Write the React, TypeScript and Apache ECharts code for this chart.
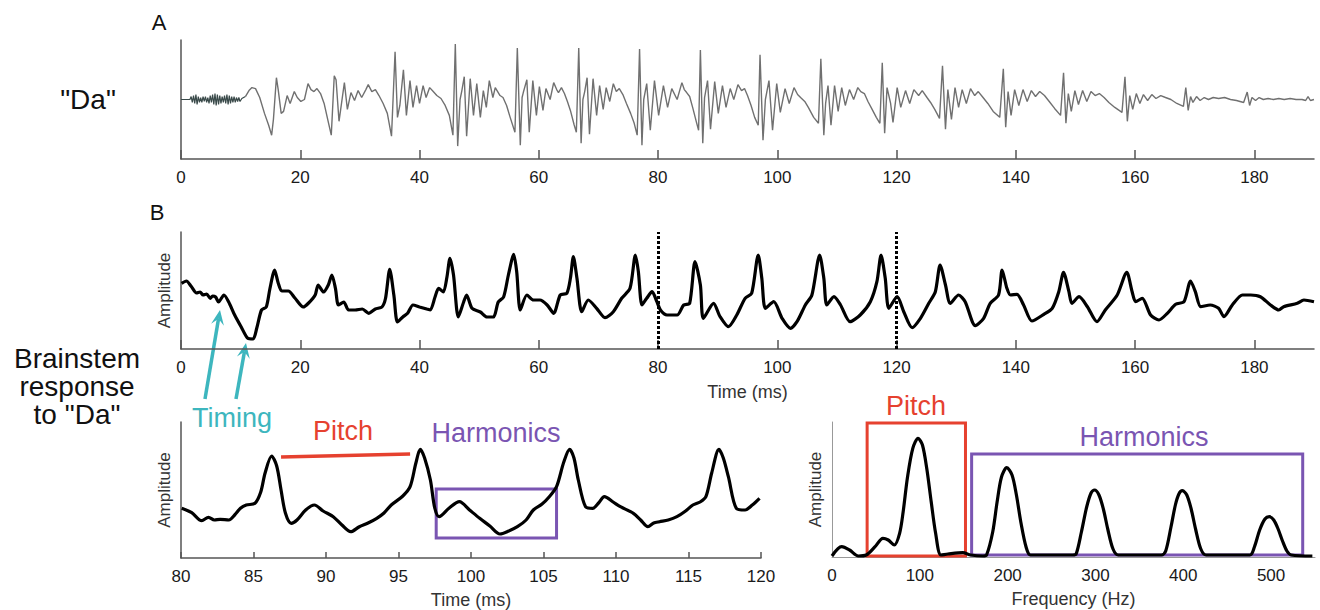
import React, { useEffect, useRef } from "react";
import * as echarts from "echarts";

// ---------- Tick labels ----------
const timeTicks = [0, 20, 40, 60, 80, 100, 120, 140, 160, 180];
const detailTicks = [80, 85, 90, 95, 100, 105, 110, 115, 120];
const freqTicks = [0, 100, 200, 300, 400, 500];

// ---------- Panel A: speech waveform "Da" (ms, amplitude above baseline) ----------
const onsetT = [0, 1.5, 1.7, 1.9, 2.1, 2.3, 2.5, 2.7, 2.9, 3.1, 3.3, 3.5, 3.7, 3.9, 4.1, 4.3, 4.5, 4.7, 4.9, 5.1, 5.3, 5.5, 5.7, 5.9, 6.1, 6.3, 6.5, 6.7, 6.9, 7.1, 7.3, 7.5, 7.7, 7.9, 8.1, 8.3, 8.5, 8.7, 8.9, 9.1, 9.3, 9.5, 9.7, 9.9, 10.2, 10.8];
const onsetA = [0, 0, 3, -3, 4, -4, 5, -5, 3, -3, 2, -3, 3, -2, 3, -3, 2, -4, 4, -3, 5, -5, 6, -6, 5, -5, 4, -4, 3, -3, 4, -4, 5, -5, 4, -4, 3, -3, 3, -3, 2, -2, 2, -2, 1, 3];

const speechT = [
  10.8, 11.4, 11.9, 12.5, 13.2, 14.0, 14.7, 15.2, 15.5, 16.0, 16.3, 16.8, 17.2, 17.8, 18.3, 19.0, 19.5, 20.1, 20.7, 21.3, 21.8, 22.3, 22.8, 23.4, 24.0, 24.6, 25.2,
  25.7, 26.0, 26.5, 27.4, 27.9, 28.5, 29.1, 29.7, 30.3, 31.0, 31.4, 32.0, 32.6, 33.2, 33.9, 34.6, 35.3,
  35.9, 36.3, 36.7, 37.3, 37.8, 38.4, 38.9, 39.5, 40.0, 40.6, 41.1, 41.7, 42.3, 42.9, 43.6, 44.3, 45.0, 45.6,
  46.0, 46.4, 46.8, 47.1, 47.5, 47.9, 48.5, 49.05, 49.6, 50.2, 50.7, 51.2, 51.7, 52.3, 52.7, 53.1, 53.5, 54.0, 54.6, 55.2, 56.0,
  56.4, 56.9, 57.2, 57.4, 58.0, 58.4, 59.0, 59.6, 60.1, 60.7, 61.2, 61.9, 62.5, 63.0, 63.3, 63.8, 64.3, 64.8, 65.3, 65.9, 66.3,
  66.7, 67.1, 67.4, 67.7, 68.1, 68.5, 69.1, 69.7, 70.2, 70.8, 71.3, 71.9, 72.5, 73.0, 73.5, 74.1, 74.7, 75.4, 76.0, 76.5,
  76.9, 77.3, 77.6, 78.1, 78.7, 79.4, 80.1, 80.9, 81.6, 82.3, 83.2, 84.0, 84.4, 84.8, 85.3, 85.8, 86.4, 86.8,
  87.1, 87.5, 87.8, 88.3, 88.8, 89.5, 90.1, 90.8, 91.4, 92.1, 92.7, 93.4, 94.0, 94.5, 95.0, 95.6, 96.2, 96.8,
  97.1, 97.6, 98.0, 98.6, 99.2, 99.9, 100.5, 101.3, 102.0, 102.8, 103.4, 103.9, 104.6, 105.2, 106.1, 106.9,
  107.3, 107.8, 108.1, 108.5, 109.0, 109.6, 110.2, 110.8, 111.4, 112.1, 112.8, 113.5, 114.0, 114.6, 115.2, 115.9, 116.6, 117.2,
  117.6, 118.0, 118.4, 119.0, 119.4, 120.1, 120.7, 121.5, 122.2, 122.9, 123.7, 124.3, 125.1, 125.7, 126.4, 127.2,
  127.7, 128.2, 128.6, 129.2, 129.8, 130.4, 131.0, 131.7, 132.4, 133.1, 133.7, 134.5, 135.3, 136.2, 137.3,
  137.9, 138.3, 138.7, 139.2, 139.8, 140.5, 141.2, 141.9, 142.6, 143.3, 144.0, 144.8, 145.6, 146.5, 147.5,
  148.0, 148.4, 148.8, 149.3, 149.9, 150.5, 151.2, 151.9, 152.6, 153.3, 154.0, 154.8, 155.6, 156.6, 157.8,
  158.3, 158.7, 159.1, 159.6, 160.2, 160.8, 161.4, 162.1, 162.8, 163.5, 164.3, 165.1, 166.0, 167.0, 168.1,
  168.5, 168.9, 169.3, 169.7, 170.3, 170.9, 171.6, 172.3, 173.1, 174.0, 175.0, 176.0, 177.0, 178.2,
  178.8, 179.2, 179.6, 180.2, 180.8, 181.5, 182.3, 183.2, 184.1, 185.0, 186.0, 187.0, 188.0, 188.6, 189.0, 189.4, 190,
];
const speechA = [
  3, 9, 12, 11, 2, -14, -26, -36, -20, 22, 10, -14, -12, 4, -4, 8, 2, -2, 0, 16, 10, 8, 11, 6, -4, -20, -36,
  24, 20, -22, 17, -10, 7, -1, 9, 2, 10, 15, 8, 10, 4, -4, -14, -37,
  48, -18, -6, 30, -16, 19, -8, 14, -4, 14, 2, 12, 8, 4, 1, -6, -16, -36,
  56, -47, 0, 9, 23, -37, 21, -16, 16, -18, 9, -8, 19, 2, 12, 8, 4, 2, -6, -18, -33,
  52, -46, 2, 7, 20, -33, 19, -16, 13, -11, 11, 0, 17, 10, 7, 12, 6, -2, -11, -25, -33,
  52, -44, 0, 8, 22, -35, 21, -16, 14, -10, 12, -2, 16, 8, 11, 5, -4, -14, -24, -36,
  51, -46, 0, 16, -31, 19, -16, 14, -8, 11, 0, 17, 10, 7, 3, -8, -22, -31,
  50, -44, 2, 19, -30, 18, -14, 14, -8, 11, 0, 15, 9, 11, 4, -6, -18, -26,
  45, -41, 0, 19, -31, 16, -13, 11, -4, 12, 5, 2, -2, -8, -18, -24,
  41, -36, -4, 14, -26, 14, -12, 12, -6, 10, 0, 12, 8, 6, -2, -10, -18, -24,
  37, -34, 12, -4, -23, 12, -8, 9, -4, 10, 4, 9, 2, -3, -10, -19,
  34, -30, 10, -20, 12, -8, 10, -4, 11, 4, 8, 2, -4, -12, -18,
  31, -28, 8, -16, 10, -6, 10, -2, 9, 3, 8, 4, -2, -9, -16,
  27, -24, 6, -12, 9, -5, 9, -2, 8, 4, 6, 2, -3, -8, -13,
  23, -22, 4, -10, 6, -4, 5, -1, 5, 1, 4, 2, 0, -4, -7,
  12, -11, 3, -3, 3, -1, 2, 0, 2, 1, 2, 0, -1, -3,
  7.5, -6, 2, -1, 2, 0, 1, 0, 1, 0, 1, 0, 0, -1, 3, -1, 0,
];

// ---------- Panel B: brainstem response (ms, amplitude) ----------
const respT = [
  0.1, 0.9, 1.7, 2.6, 3.2, 3.7, 4.3, 4.9, 5.3, 5.8, 6.3, 7.2, 8.0, 9.0, 10.1, 11.2, 12.1, 12.7, 13.5, 14.3, 14.9, 15.7, 16.3, 16.9, 18.0, 19.1, 20.5,
  21.4, 22.5, 23.0, 23.9, 24.7, 25.3, 25.9, 26.4, 27.3, 28.1, 29.2, 30.4, 31.5, 32.6, 33.7, 34.3, 35.0, 35.7, 36.3, 37.2, 38.0, 38.9, 40.0,
  41.2, 41.8, 42.6, 43.2, 44.0, 44.6, 45.1, 45.7, 46.5, 47.4, 47.9, 48.8, 50.2, 51.3, 52.4, 53.2, 54.1, 54.9, 55.8, 56.3, 56.9, 58.0, 59.1,
  60.2, 61.4, 62.5, 63.6, 64.7, 65.3, 65.8, 66.4, 67.2, 68.3, 69.7, 71.1, 72.5, 73.9, 75.3, 76.2, 76.7, 77.3, 78.1, 79.0, 79.8,
  80.4, 81.5, 83.2, 84.3, 85.3, 86.2, 87.1, 87.6, 89.3, 90.4, 91.8, 93.2, 94.6, 95.7, 96.8, 97.4, 98.0, 99.4, 100.8, 102.2, 103.3, 104.7,
  105.8, 107.1, 107.8, 108.3, 109.5, 110.6, 112.2, 113.9, 115.6, 116.7, 117.4, 118.1, 118.7, 120.1, 121.2, 122.6, 124.0, 125.4, 126.5,
  127.3, 128.2, 129.0, 130.4, 131.5, 133.2, 134.6, 135.7, 137.1, 137.7, 138.5, 139.1, 140.2, 141.3, 142.7, 144.7, 146.1, 147.2, 148.0,
  148.9, 149.4, 150.6, 152.0, 153.6, 155.0, 157.0, 158.6, 159.5, 160.1, 161.2, 162.6, 164.0, 165.4, 166.8, 168.2, 169.3, 170.1, 171.0,
  172.6, 174.0, 174.9, 176.3, 178.0, 179.4, 181.0, 182.7, 184.1, 184.9, 187.2, 188.3, 190,
];
const respA = [
  65.7, 68, 62.7, 56, 57, 54, 55, 50.7, 53, 52, 47, 54, 47, 34, 22, 10.7, 10, 20.7, 39, 42, 60, 79, 66, 58, 58, 51, 42,
  46, 54, 64, 57, 64, 74, 60.7, 44, 47, 39, 39, 40, 35.7, 40, 42, 50.7, 79.7, 53.7, 27, 32, 35.7, 44, 42,
  40, 39, 52, 60.7, 57, 72, 90.7, 74, 32, 47, 54, 40.7, 37, 32, 32, 47, 52, 74, 94.7, 77, 39, 54, 49,
  49, 44, 35.7, 54, 55.7, 70.7, 92.3, 70.7, 37.3, 49, 40.7, 31.3, 37.3, 50.7, 60.7, 94, 77.3, 44, 50.7, 57.3, 47.3,
  39, 34, 34, 44, 45.7, 87.3, 64, 30.7, 45.7, 32.3, 22.3, 34, 50.7, 55.7, 94, 70.7, 40.7, 47.3, 30.7, 20.7, 27.3, 44,
  54, 94, 70.7, 44, 52.3, 44, 27.3, 34, 47.3, 67.3, 94, 70.7, 40.7, 52.3, 37.3, 21.3, 30.7, 45.7, 57.3,
  84, 64, 45.7, 54, 47.3, 23.3, 30.7, 45.7, 54, 79, 60.7, 54, 54.7, 44, 28, 34.7, 40.7, 57.3, 76.7,
  57.3, 45.7, 52.3, 42.3, 27.3, 39, 54, 76.7, 57.3, 47.3, 50.7, 34, 29, 35.7, 44.7, 47.3, 68, 57.3, 42.3,
  44, 40.7, 32.3, 44, 54, 54, 52.3, 44, 39, 42.3, 45.7, 49, 47.3,
];

// ---------- Panel C: response detail 80-120 ms ----------
const detailT = [
  80.05, 80.74, 81.43, 81.9, 82.3, 82.7, 83.3, 83.7, 84.1, 84.5, 85.1, 85.5, 85.8, 86.25, 86.6, 86.9, 87.2, 87.6, 88.0, 88.6, 89.2, 89.8,
  90.5, 91.1, 91.7, 92.3, 92.9, 93.5, 94.0, 94.5, 95.3, 95.8, 96.2, 96.5, 96.8, 97.2, 97.5, 97.8, 98.5, 99.2, 99.9, 100.6, 101.3, 102.0,
  102.6, 103.2, 103.8, 104.3, 104.9, 105.4, 105.9, 106.4, 106.8, 107.1, 107.4, 107.9, 108.4, 108.8, 109.2, 109.8, 110.3, 111.2, 111.7,
  112.2, 112.6, 113.0, 113.6, 114.2, 114.8, 115.3, 115.8, 116.2, 116.6, 117.1, 117.4, 117.75, 118.3, 118.9, 119.4, 119.9,
];
const detailA = [
  49.7, 45.3, 37.3, 40.7, 38, 38.7, 38, 43, 49.7, 53, 54.7, 66, 85, 102, 92, 68, 45, 34.7, 38, 48, 53, 47,
  41.3, 33, 26.3, 31.3, 35, 39.7, 45, 53, 62, 71.3, 95, 108.7, 100, 78, 50, 41.3, 50, 56.3, 48, 39.7, 32, 24,
  27, 31.3, 38, 48, 54, 61.3, 71.3, 96, 108.7, 100, 78, 51.3, 49.7, 55, 61.3, 56, 51.3, 44.7, 38,
  31.3, 35, 36.3, 38, 41.3, 47, 53, 56, 61.3, 85, 108.7, 100, 81.3, 49.7, 48, 53, 59.7,
];

// ---------- Panel D: spectrum (Hz, amplitude) ----------
const freqHz = [
  0, 11, 20, 30, 39, 49, 58, 64, 71, 77, 81, 86, 92, 98, 103, 108, 113, 118, 124, 132, 149, 158, 172,
  176, 183, 188, 193, 199, 205, 210, 215, 221, 226, 274,
  278, 284, 290, 295, 299, 304, 309, 314, 320, 326,
  375, 380, 386, 391, 395, 399, 404, 409, 414, 420, 426,
  476, 481, 487, 493, 498, 503, 508, 513, 518, 523, 547,
];
const freqAmp = [
  1, 10.3, 7, 1, 2, 10.3, 18.7, 17, 12, 23.7, 45, 80, 108.7, 118.7, 112, 88, 55, 23.7, 2, 3, 4.3, 2, 1,
  2, 25, 55, 80, 89.3, 82, 62, 35, 10, 2, 2,
  3, 25, 50, 64, 67, 62, 48, 28, 8, 2,
  2, 6, 30, 52, 63, 66.3, 62, 48, 28, 8, 2,
  2, 10, 27, 38, 40.3, 37, 28, 16, 6, 2, 1,
];

// ---------- Annotation boxes (data coordinates) ----------
const harmonicsWindowMs = [97.6, 105.9];
const harmonicsWindowAmp = [20, 69];
const pitchLineMs = [86.9, 95.8];
const pitchLineAmp = [101, 104];
const pitchBandHz = [40, 152];
const pitchBandAmp = [1, 134];
const harmonicsBandHz = [159, 536];
const harmonicsBandAmp = [2, 103];
const markerTimes = [80, 120];

const zip = (xs: number[], ys: number[]) => xs.map((x, i) => [x, ys[i]]);

const FONT = "'Liberation Sans', Arial, Helvetica, sans-serif";
const CYAN = "#3db6be";
const RED = "#e6412f";
const PURPLE = "#7a55b2";
const AXIS = "#555";

function txt(text: string, x: number, y: number, size: number, color = "#111") {
  return {
    type: "text",
    x,
    y,
    silent: true,
    style: {
      text,
      fill: color,
      fontSize: size,
      fontFamily: FONT,
      align: "center",
      verticalAlign: "middle",
      textAlign: "center",
      textVerticalAlign: "middle",
    },
  };
}

function arrow(x1: number, y1: number, x2: number, y2: number) {
  const dx = x2 - x1;
  const dy = y2 - y1;
  const len = Math.sqrt(dx * dx + dy * dy);
  const ux = dx / len;
  const uy = dy / len;
  const hl = 15;
  const hw = 6.5;
  const bx = x2 - ux * hl;
  const by = y2 - uy * hl;
  const nx = x2 - ux * (hl * 0.6);
  const ny = y2 - uy * (hl * 0.6);
  return [
    {
      type: "line",
      silent: true,
      shape: { x1, y1, x2: nx, y2: ny },
      style: { stroke: CYAN, lineWidth: 3.5 },
    },
    {
      type: "polygon",
      silent: true,
      shape: {
        points: [
          [x2, y2],
          [bx - uy * hw, by + ux * hw],
          [nx, ny],
          [bx + uy * hw, by - ux * hw],
        ],
      },
      style: { fill: CYAN },
    },
  ];
}

export default function App() {
  const ref = useRef<HTMLDivElement>(null);

  useEffect(() => {
    if (!ref.current) return;
    const chart = echarts.init(ref.current, undefined, { renderer: "svg" });

    const axisLine = { show: true, onZero: false, lineStyle: { color: AXIS, width: 1.5 } };
    const label = (ticks: number[]) => ({
      fontSize: 17, color: "#1a1a1a", fontFamily: FONT, margin: 10,
      customValues: ticks,
    });
    const tick = (ticks: number[], length: number) => ({
      show: true, inside: true, length, customValues: ticks,
      lineStyle: { color: AXIS, width: 1.5 },
    });
    const nameStyle = { fontSize: 18, color: "#333", fontFamily: FONT };
    const ampName = {
      name: "Amplitude", nameLocation: "middle", nameGap: 8, nameRotate: 90,
      nameTextStyle: { ...nameStyle, fontSize: 17 },
    };

    const option: any = {
      animation: false,
      backgroundColor: "#fff",
      grid: [
        { left: 181, top: 40, width: 1133, height: 119 },
        { left: 181, top: 232, width: 1133, height: 117 },
        { left: 181, top: 422, width: 580, height: 136 },
        { left: 832, top: 422, width: 483, height: 135 },
      ],
      xAxis: [
        {
          gridIndex: 0, type: "value", min: 0, max: 190,
          axisLine, axisTick: tick(timeTicks, 9), axisLabel: label(timeTicks),
          splitLine: { show: false },
        },
        {
          gridIndex: 1, type: "value", min: 0, max: 190,
          axisLine, axisTick: tick(timeTicks, 9), axisLabel: label(timeTicks),
          splitLine: { show: false },
          name: "Time (ms)", nameLocation: "middle", nameGap: 34, nameTextStyle: nameStyle,
        },
        {
          gridIndex: 2, type: "value", min: 80, max: 120,
          axisLine, axisTick: tick(detailTicks, 6), axisLabel: label(detailTicks),
          splitLine: { show: false },
          name: "Time (ms)", nameLocation: "middle", nameGap: 33, nameTextStyle: nameStyle,
        },
        {
          gridIndex: 3, type: "value", min: 0, max: 550,
          axisLine: { show: true, onZero: false, lineStyle: { color: "#999", width: 1 } },
          axisTick: { show: false },
          axisLabel: label(freqTicks), splitLine: { show: false },
          name: "Frequency (Hz)", nameLocation: "middle", nameGap: 33, nameTextStyle: nameStyle,
        },
      ],
      yAxis: [
        {
          gridIndex: 0, type: "value", min: -60, max: 60,
          axisLine, axisTick: { show: false }, axisLabel: { show: false }, splitLine: { show: false },
        },
        {
          gridIndex: 1, type: "value", min: 0, max: 117,
          axisLine, axisTick: { show: false }, axisLabel: { show: false }, splitLine: { show: false },
          ...ampName,
        },
        {
          gridIndex: 2, type: "value", min: 0, max: 136,
          axisLine, axisTick: { show: false }, axisLabel: { show: false }, splitLine: { show: false },
          ...ampName,
        },
        {
          gridIndex: 3, type: "value", min: 0, max: 135,
          axisLine: { show: true, lineStyle: { color: "#999", width: 1 } },
          axisTick: { show: false }, axisLabel: { show: false }, splitLine: { show: false },
          ...ampName,
        },
      ],
      series: [
        {
          type: "line", xAxisIndex: 0, yAxisIndex: 0, symbol: "none",
          data: zip(onsetT, onsetA),
          lineStyle: { color: "#3a4a4a", width: 1.2 },
        },
        {
          type: "line", xAxisIndex: 0, yAxisIndex: 0, symbol: "none",
          data: zip(speechT, speechA),
          lineStyle: { color: "#707070", width: 1.4 },
        },
        {
          type: "line", xAxisIndex: 1, yAxisIndex: 1, symbol: "none", smooth: 0.25,
          data: zip(respT, respA),
          lineStyle: { color: "#000", width: 3.2 },
          markLine: {
            silent: true, symbol: "none", label: { show: false },
            lineStyle: { color: "#000", width: 3, type: [3, 2] },
            data: markerTimes.map((t) => ({ xAxis: t })),
          },
        },
        {
          type: "line", xAxisIndex: 2, yAxisIndex: 2, symbol: "none", smooth: 0.3,
          data: zip(detailT, detailA),
          lineStyle: { color: "#000", width: 3.2 },
          markLine: {
            silent: true, symbol: "none", label: { show: false },
            lineStyle: { color: RED, width: 3.5, type: "solid" },
            data: [[
              { coord: [pitchLineMs[0], pitchLineAmp[0]] },
              { coord: [pitchLineMs[1], pitchLineAmp[1]] },
            ]],
          },
          markArea: {
            silent: true, label: { show: false },
            itemStyle: { color: "rgba(0,0,0,0)", borderColor: PURPLE, borderWidth: 3 },
            data: [[
              { coord: [harmonicsWindowMs[0], harmonicsWindowAmp[1]] },
              { coord: [harmonicsWindowMs[1], harmonicsWindowAmp[0]] },
            ]],
          },
        },
        {
          type: "line", xAxisIndex: 3, yAxisIndex: 3, symbol: "none", smooth: 0.3,
          data: zip(freqHz, freqAmp),
          lineStyle: { color: "#000", width: 3.2 },
          markArea: {
            silent: true, label: { show: false },
            data: [
              [
                { coord: [pitchBandHz[0], pitchBandAmp[1]], itemStyle: { color: "rgba(0,0,0,0)", borderColor: RED, borderWidth: 3 } },
                { coord: [pitchBandHz[1], pitchBandAmp[0]] },
              ],
              [
                { coord: [harmonicsBandHz[0], harmonicsBandAmp[1]], itemStyle: { color: "rgba(0,0,0,0)", borderColor: PURPLE, borderWidth: 3 } },
                { coord: [harmonicsBandHz[1], harmonicsBandAmp[0]] },
              ],
            ],
          },
        },
      ],
      graphic: [
        txt("A", 159, 22, 22),
        txt("B", 157, 212, 22),
        txt('"Da"', 88, 99, 28),
        txt("Brainstem", 77, 358, 28),
        txt("response", 77, 386, 28),
        txt('to "Da"', 77, 414, 28),
        txt("Timing", 232, 418, 27, CYAN),
        txt("Pitch", 343, 431, 27, RED),
        txt("Harmonics", 496, 433, 27, PURPLE),
        txt("Pitch", 916, 406, 27, RED),
        txt("Harmonics", 1144, 437, 27, PURPLE),
        ...arrow(205, 399, 220, 310),
        ...arrow(236, 399, 246, 343),
      ],
    };

    chart.setOption(option);
    return () => chart.dispose();
  }, []);

  return (
    <div
      ref={ref}
      style={{ position: "fixed", left: 0, top: 0, width: 1320, height: 610, background: "#fff" }}
    />
  );
}
